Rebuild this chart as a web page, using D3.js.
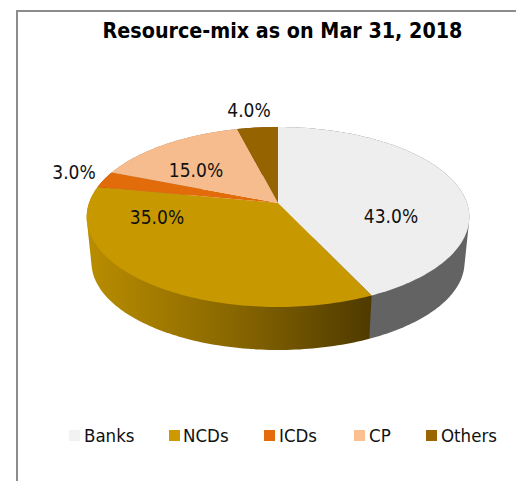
<!DOCTYPE html>
<html>
<head>
<meta charset="utf-8">
<style>
  html, body { margin: 0; padding: 0; background: #fff; }
  svg { display: block; }
  text { font-family: "DejaVu Sans Condensed", "DejaVu Sans", sans-serif; fill: #111; }
</style>
<script src="https://cdn.jsdelivr.net/npm/d3@7/dist/d3.min.js"></script>
</head>
<body>
<svg id="chart" width="516" height="481"></svg>
<script>
const categories = ["Banks", "NCDs", "ICDs", "CP", "Others"];
const shares = [43, 35, 3, 15, 4];
const topColors = ["#eeeeee", "#c89800", "#e26b0a", "#f6bc8e", "#956300"];
const legendColors = ["#f2f2f2", "#cc9900", "#e46c0a", "#fcc090", "#996600"];
const titleText = "Resource-mix as on Mar 31, 2018";

// Layout of the tilted disc
const apex = { x: 278, y: 203 };
const radiusX = 189, radiusY = 87.8, perspective = 0.1556;
const floorY = 248.6, floorScale = 0.975;

// Label centres and legend columns, in pixels
const labelSpots = [[391, 216], [157, 217], [74, 172], [196, 170], [249, 110]];
const legendSwatchX = [69, 169, 264, 354, 426];
const legendTextX = [84, 183, 279, 369, 441];

const svg = d3.select("#chart");
const defs = svg.append("defs");

// Sweep of shade along the front wall of the NCD slice
const wall = defs.append("linearGradient")
  .attr("id", "ncdWall")
  .attr("gradientUnits", "userSpaceOnUse")
  .attr("x1", 88).attr("x2", 371).attr("y1", 0).attr("y2", 0);
wall.append("stop").attr("offset", 0).attr("stop-color", "#b98d00");
wall.append("stop").attr("offset", 0.5).attr("stop-color", "#8a6800");
wall.append("stop").attr("offset", 1).attr("stop-color", "#4f3a00");

const wallFill = ["#636363", "url(#ncdWall)", "#9c4a06", "#a87f5e", "#664300"];

// Chart frame: left and top rules only
svg.append("path")
  .attr("d", d3.line()([[17, 481], [17, 11], [516, 11]]))
  .attr("fill", "none")
  .attr("stroke", "#8c8c8c")
  .attr("stroke-width", 2);

svg.append("text")
  .attr("x", 282.5).attr("y", 38)
  .attr("text-anchor", "middle")
  .attr("font-size", 21.3)
  .attr("font-weight", "bold")
  .style("fill", "#000")
  .text(titleText);

const slices = d3.pie().sort(null).value(d => d)(shares);

// Perspective mapping of a point on the unit circle at the given angle
function rim(angle, centreY, scale) {
  const u = Math.sin(angle), v = -Math.cos(angle);
  const w = 1 - perspective * v;
  return [apex.x + scale * radiusX * u / w, centreY + scale * radiusY * v / w];
}

function arcPoints(a0, a1, centreY, scale) {
  const steps = Math.max(8, Math.ceil((a1 - a0) / 0.02));
  return d3.range(steps + 1).map(i => rim(a0 + (a1 - a0) * i / steps, centreY, scale));
}

// How far a slice's middle sits toward the viewer; walls are painted back to front
const nearness = d => -Math.cos((d.startAngle + d.endAngle) / 2);

const line = d3.line();

// Each wall is the hull of its upper and lower rims, so the silhouette stays
// tangent at the sides; the top faces cover whatever falls behind them
svg.append("g").selectAll("path")
  .data(slices.slice().sort((a, b) => nearness(a) - nearness(b)))
  .join("path")
  .attr("d", d => line(d3.polygonHull(
    arcPoints(d.startAngle, d.endAngle, apex.y, 1)
      .concat(arcPoints(d.startAngle, d.endAngle, floorY, floorScale))
  )) + "Z")
  .attr("fill", d => wallFill[d.index]);

svg.append("g").selectAll("path")
  .data(slices)
  .join("path")
  .attr("d", d => line(
    [[apex.x, apex.y]].concat(arcPoints(d.startAngle, d.endAngle, apex.y, 1))
  ) + "Z")
  .attr("fill", (d, i) => topColors[i]);

// Percentage labels
svg.append("g").selectAll("text")
  .data(shares)
  .join("text")
  .attr("x", (d, i) => labelSpots[i][0])
  .attr("y", (d, i) => labelSpots[i][1])
  .attr("dy", "0.36em")
  .attr("text-anchor", "middle")
  .attr("font-size", 19)
  .text(d => d3.format(".1f")(d) + "%");

// Legend row
const legend = svg.append("g").selectAll("g")
  .data(categories)
  .join("g");
legend.append("rect")
  .attr("x", (d, i) => legendSwatchX[i])
  .attr("y", 430)
  .attr("width", 11).attr("height", 11)
  .attr("fill", (d, i) => legendColors[i]);
legend.append("text")
  .attr("x", (d, i) => legendTextX[i])
  .attr("y", 435.5)
  .attr("dy", "0.36em")
  .attr("font-size", 18.5)
  .text(d => d);
</script>
</body>
</html>
